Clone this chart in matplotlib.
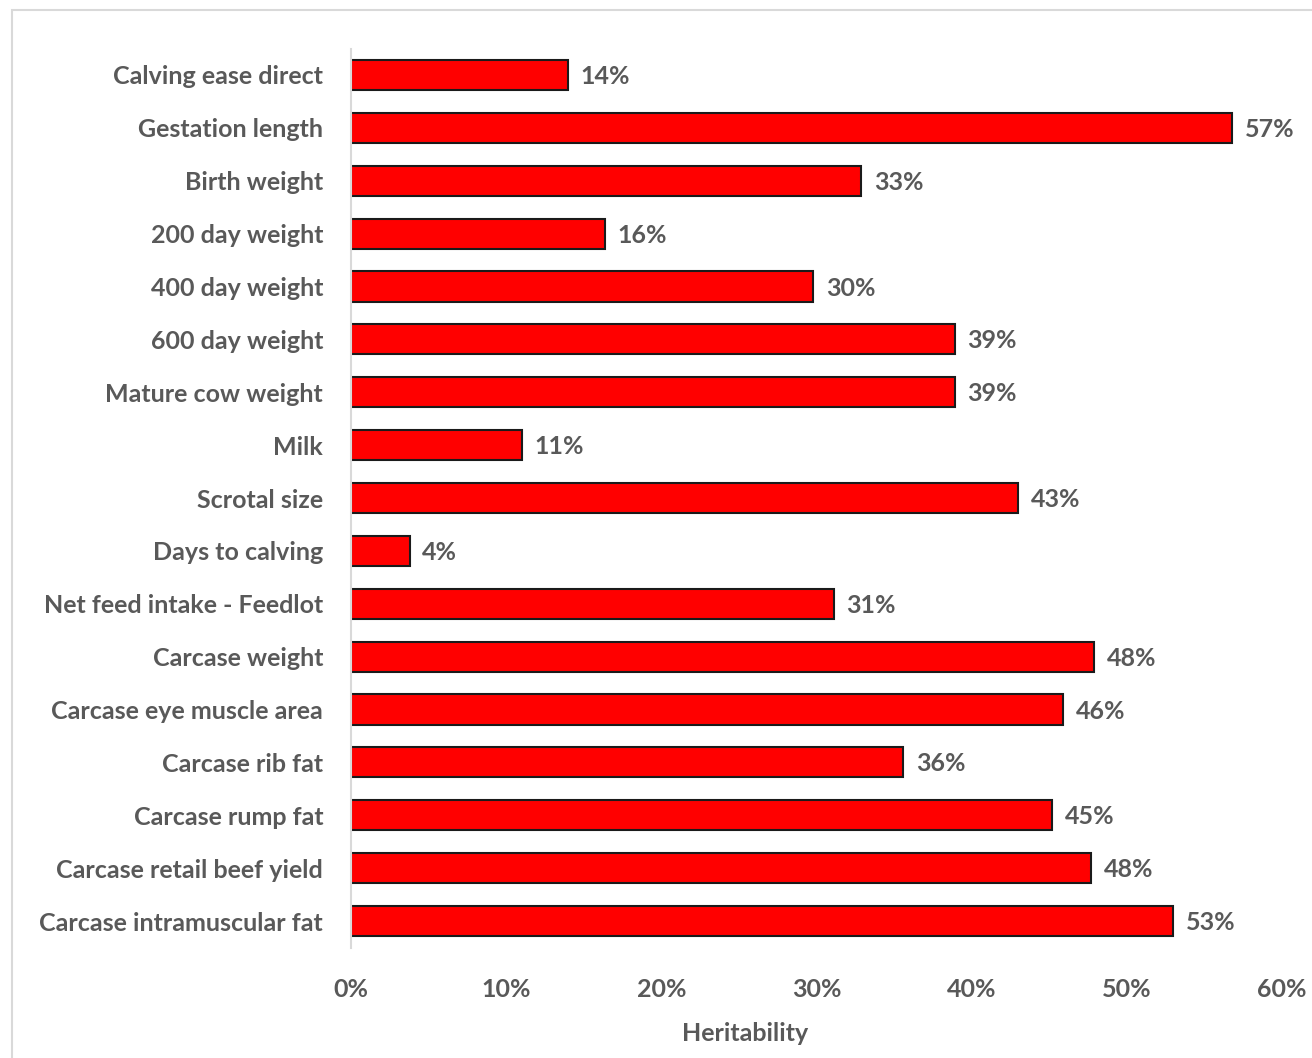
import numpy as np
import matplotlib.pyplot as plt
from matplotlib.patches import Rectangle

# trait names, top to bottom
traits = ['Calving ease direct', 'Gestation length', 'Birth weight', '200 day weight',
          '400 day weight', '600 day weight', 'Mature cow weight', 'Milk', 'Scrotal size',
          'Days to calving', 'Net feed intake - Feedlot', 'Carcase weight',
          'Carcase eye muscle area', 'Carcase rib fat', 'Carcase rump fat',
          'Carcase retail beef yield', 'Carcase intramuscular fat']
# heritability
herit = [0.140, 0.568, 0.329, 0.164, 0.298, 0.389, 0.389, 0.110, 0.430,
         0.038, 0.311, 0.479, 0.459, 0.356, 0.452, 0.477, 0.530]
xticks = [0, 0.1, 0.2, 0.3, 0.4, 0.5, 0.6]

grey = '#595959'
fs = 18
plt.rcParams['font.family'] = ['Lato', 'DejaVu Sans']

fig = plt.figure(figsize=(13.12, 10.58), dpi=100)
# chart frame
fig.patches.append(Rectangle((12 / 1312, -0.01), 1.1, 1 - 10 / 1058 + 0.01,
                             transform=fig.transFigure, fill=False,
                             edgecolor='#d9d9d9', linewidth=1.5))
ax = fig.add_axes([351 / 1312, 1 - 947.5 / 1058, 931 / 1312, 899 / 1058])

y = np.arange(len(traits))
ax.barh(y, herit, height=0.57, color='#ff0000', edgecolor='#1a1a1a', linewidth=1.5)
for yi, v in zip(y, herit):
    ax.text(v + 0.008, yi + 0.03, '{:.0%}'.format(v), va='center', ha='left',
            fontsize=fs, fontweight='bold', color=grey)

ax.set_ylim(len(traits) - 0.5, -0.5)
ax.set_xlim(0, 0.6)
ax.set_yticks(y)
ax.set_yticklabels(traits)
ax.set_xticks(xticks)
ax.set_xticklabels(['{:.0%}'.format(t) for t in xticks])
ax.tick_params(axis='both', length=0, labelsize=fs, labelcolor=grey)
ax.tick_params(axis='y', pad=20)
ax.tick_params(axis='x', pad=22)
for lab in ax.get_xticklabels() + ax.get_yticklabels():
    lab.set_fontweight('bold')
for s in ['top', 'right', 'bottom']:
    ax.spines[s].set_visible(False)
ax.spines['left'].set_color('#d9d9d9')
ax.spines['left'].set_linewidth(1.5)
ax.set_xlabel('Heritability', fontsize=fs, fontweight='bold', color=grey)
ax.xaxis.set_label_coords((745 - 351) / 931, -0.083)

fig.savefig('out.png', dpi=100)
